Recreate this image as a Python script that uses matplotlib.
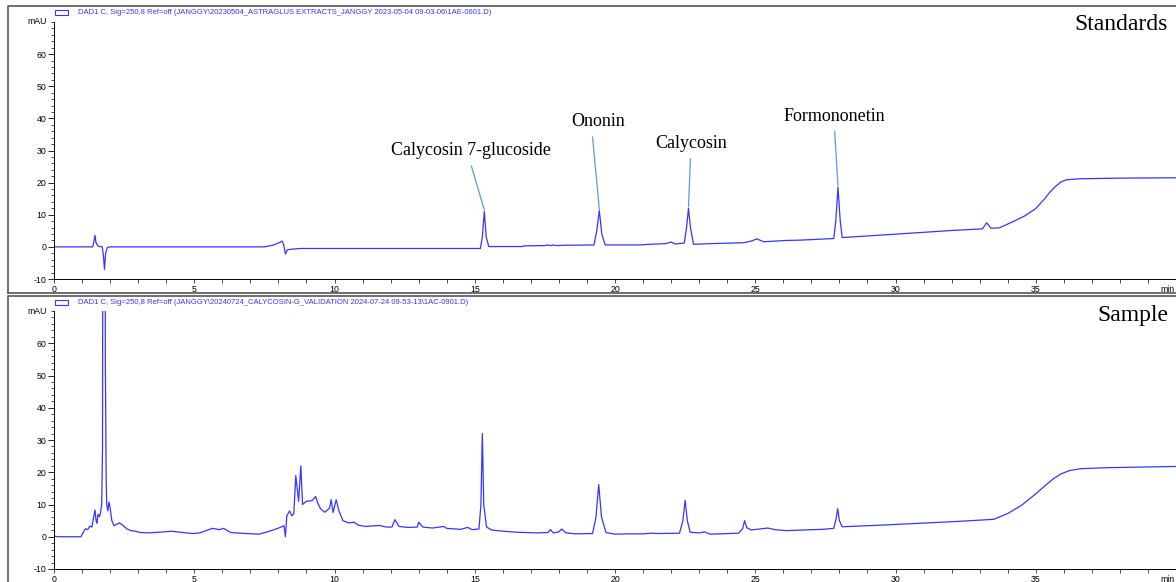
import matplotlib.pyplot as plt
from matplotlib.patches import Rectangle
from matplotlib.lines import Line2D
from matplotlib.ticker import MultipleLocator

plt.rcParams['font.family'] = ['Liberation Sans', 'DejaVu Sans']
plt.rcParams['axes.unicode_minus'] = False

# standards run: retention time (min) and absorbance (mAU)
std_time = [0, 1.38, 1.43, 1.46, 1.50, 1.58, 1.72, 1.76, 1.80, 1.84, 1.90, 1.98,
            7.5, 7.8, 8.05, 8.13, 8.19, 8.25, 8.32, 8.5, 8.8,
            15.2, 15.27, 15.34, 15.41, 15.5, 16.7, 16.75, 17.5, 17.6, 17.7, 17.8, 17.9, 18.2,
            19.25, 19.35, 19.44, 19.53, 19.65, 20.9, 21.2, 21.8, 22.0, 22.15,
            22.47, 22.55, 22.62, 22.69, 22.8, 23.4, 24.6, 24.9, 25.05, 25.3, 26.1, 26.6,
            27.8, 27.87, 27.95, 28.03, 28.1, 29.9, 32.0, 33.1, 33.25, 33.4, 33.7,
            34.2, 34.6, 35.0, 35.3, 35.5, 35.7, 35.9, 36.1, 36.6, 38.0, 40.0]
std_mau = [0, 0, 2.0, 3.6, 1.2, 0.2, 0, -2.5, -7.0, -2.0, -0.2, 0,
           0, 0.5, 1.4, 1.8, 0.6, -2.2, -0.9, -0.7, -0.5,
           -0.5, 3.0, 11.0, 3.0, 0.1, 0.1, 0.3, 0.4, 0.6, 0.4, 0.6, 0.4, 0.5,
           0.6, 5.0, 11.3, 4.0, 0.6, 0.6, 0.8, 1.0, 1.5, 0.9,
           1.2, 6.0, 12.0, 6.0, 0.8, 1.0, 1.3, 1.9, 2.5, 1.6, 2.0, 2.1,
           2.6, 8.0, 18.5, 8.0, 2.9, 3.9, 5.1, 5.6, 7.5, 5.8, 5.9,
           7.9, 9.6, 11.9, 14.8, 17.0, 18.8, 20.2, 20.9, 21.2, 21.4, 21.5]

# sample run
smp_time = [0, 0.15, 0.96, 1.05, 1.12, 1.2, 1.28, 1.35, 1.42, 1.46, 1.50, 1.53, 1.57,
            1.62, 1.66, 1.70, 1.73, 1.75, 1.82, 1.83, 1.86, 1.88, 1.92, 1.96, 2.0,
            2.06, 2.14, 2.22, 2.32, 2.45, 2.6, 2.75, 2.9, 3.1, 3.4, 3.86, 4.2, 4.6,
            4.95, 5.2, 5.45, 5.65, 5.9, 6.05, 6.3, 6.85, 7.3, 7.6, 7.95, 8.2, 8.25,
            8.3, 8.4, 8.48, 8.55, 8.62, 8.67, 8.72, 8.8, 8.86, 9.0, 9.2, 9.33, 9.4,
            9.5, 9.65, 9.75, 9.83, 9.88, 9.95, 10.06, 10.16, 10.3, 10.5, 10.7, 10.85,
            11.1, 11.6, 11.85, 12.05, 12.15, 12.3, 12.6, 12.95, 13.0, 13.15, 13.5,
            13.9, 14.0, 14.5, 14.75, 14.9, 15.15, 15.22, 15.27, 15.32, 15.42, 15.6,
            15.9, 16.5, 17.2, 17.6, 17.7, 17.8, 18.0, 18.1, 18.25, 18.6, 19.2, 19.32,
            19.42, 19.52, 19.68, 20.0, 20.5, 21.0, 21.3, 21.5, 22.3, 22.42, 22.5,
            22.58, 22.68, 23.0, 23.2, 23.4, 24.4, 24.55, 24.62, 24.7, 24.85, 25.45,
            25.7, 26.1, 27.4, 27.8, 27.88, 27.94, 28.0, 28.1, 29.5, 30.7, 32.1, 33.5,
            34.0, 34.5, 35.0, 35.3, 35.6, 35.9, 36.2, 36.6, 37.5, 40.0]
smp_mau = [0.2, 0, 0, 1.5, 2.5, 2.2, 3.3, 3.0, 6.5, 8.3, 5.0, 4.2, 7.0,
           6.2, 7.5, 10.0, 27.5, 200, 200, 55, 18, 10, 8, 10.8, 9,
           5.0, 3.4, 3.8, 4.3, 3.6, 2.4, 1.9, 1.7, 1.3, 1.2, 1.5, 1.7, 1.3,
           1.0, 1.2, 2.0, 2.6, 2.2, 2.6, 1.3, 1.0, 0.8, 1.5, 2.5, 3.4, 0.0,
           6.5, 8.0, 6.5, 7.2, 19, 15, 11, 22, 10, 11, 11.2, 12.5, 10.5,
           8.7, 7.6, 8.3, 9.0, 11.5, 7.5, 11.5, 8.0, 5.0, 4.3, 4.5, 3.6,
           3.2, 3.5, 3.0, 3.0, 5.3, 3.2, 2.9, 3.0, 4.5, 3.0, 2.7,
           3.2, 2.6, 2.3, 2.9, 2.2, 2.4, 10, 32, 10, 3.0, 2.1,
           1.8, 1.4, 1.2, 1.3, 2.2, 1.2, 1.5, 2.4, 1.2, 0.9, 1.0, 6,
           16.2, 6, 1.3, 0.8, 0.9, 0.9, 1.1, 1.0, 1.1, 5, 11.3,
           5, 1.4, 1.2, 1.5, 0.8, 1.1, 2.5, 5.0, 2.8, 2.1, 2.7,
           2.2, 1.9, 2.3, 2.6, 5.5, 8.7, 5, 3.1, 3.6, 4.1, 4.7, 5.4,
           7.2, 9.8, 13.3, 15.6, 17.8, 19.5, 20.5, 21.1, 21.4, 21.8]

std_header = r"DAD1 C, Sig=250,8 Ref=off (JANGGY\20230504_ASTRAGLUS EXTRACTS_JANGGY 2023-05-04 09-03-06\1AE-0601.D)"
smp_header = r"DAD1 C, Sig=250,8 Ref=off (JANGGY\20240724_CALYCOSIN-G_VALIDATION 2024-07-24 09-53-13\1AC-0901.D)"

peak_names = ["Calycosin 7-glucoside", "Ononin", "Calycosin", "Formononetin"]
peak_time = [15.34, 19.44, 22.62, 27.95]
label_time = [14.88, 19.40, 22.70, 27.83]
label_mau = [29.9, 38.9, 32.1, 40.7]
leader_time = [14.88, 19.20, 22.69, 27.83]

W, H = 1176, 582
LINE = '#3535ff'


def box(left, top, right, bottom):
    return [left / W, 1 - bottom / H, (right - left) / W, (bottom - top) / H]


def setup_axes(ax, times, values):
    ax.plot(times, values, color=LINE, lw=0.9)
    ax.set_xlim(0, 40)
    ax.set_ylim(-10, 70)
    ax.spines['top'].set_visible(False)
    ax.spines['right'].set_visible(False)
    for s in ['left', 'bottom']:
        ax.spines[s].set_linewidth(0.7)
    ax.set_xticks(range(0, 36, 5))
    ax.xaxis.set_minor_locator(MultipleLocator(1))
    ax.set_yticks(range(-10, 61, 10))
    ax.yaxis.set_minor_locator(MultipleLocator(2))
    ax.tick_params(labelsize=6.3, width=0.6, pad=1.5)
    ax.tick_params(axis='y', which='major', length=4)
    ax.tick_params(axis='y', which='minor', length=2, width=0.5)
    ax.tick_params(axis='x', which='both', length=3, width=0.5)
    ax.text(-0.006, 1.0, "mAU", transform=ax.transAxes, ha='right', va='center', fontsize=6.3)
    ax.text(0.999, -0.022, "min", transform=ax.transAxes, ha='right', va='top', fontsize=6.3)


def panel_header(top, text, name):
    # outer frame of the panel
    fig.add_artist(Line2D([1, 8 / W, 8 / W], [1 - top / H, 1 - top / H, 1 - (top + 287) / H],
                          color='#555555', lw=1.2))
    fig.add_artist(Rectangle((55 / W, 1 - (top + 9) / H), 13 / W, 5 / H, fill=False,
                             edgecolor=LINE, lw=0.8, transform=fig.transFigure))
    fig.text(78 / W, 1 - (top + 6) / H, text, color=LINE, fontsize=5.5, va='center')
    fig.text(1168 / W, 1 - (top + 19) / H, name, family='Liberation Serif', fontsize=17,
             ha='right', va='center')


fig = plt.figure(figsize=(W / 100, H / 100), dpi=100)

ax1 = fig.add_axes(box(54, 22, 1176, 279))
setup_axes(ax1, std_time, std_mau)
ax2 = fig.add_axes(box(54, 311, 1176, 569))
setup_axes(ax2, smp_time, smp_mau)

panel_header(6, std_header, "Standards")
panel_header(296, smp_header, "Sample")
fig.add_artist(Line2D([8 / W, 1], [1 - 293 / H, 1 - 293 / H], color='#555555', lw=1.2))

# label the standard peaks
for name, pt, lt, lm, lx in zip(peak_names, peak_time, label_time, label_mau, leader_time):
    pm = std_mau[std_time.index(pt)]
    ax1.text(lt, lm, name, ha='center', va='center', family='Liberation Serif', fontsize=13)
    ax1.plot([lx, pt], [lm - 4.7, pm + 0.5], color='#5b9bd5', lw=0.9)

fig.savefig("out.png", dpi=100)
